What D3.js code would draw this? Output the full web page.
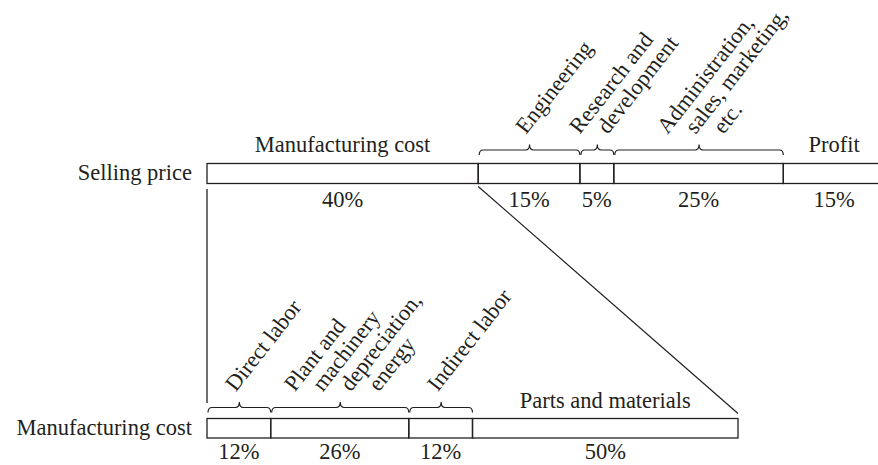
<!DOCTYPE html>
<html>
<head>
<meta charset="utf-8">
<script src="https://cdn.jsdelivr.net/npm/d3@7"></script>
<style>
  body { margin: 0; background: #fff; }
  svg text { font-family: 'Liberation Serif', 'Times New Roman', serif; font-size: 22.5px; fill: #231f20; }
</style>
</head>
<body>
<div id="chart"></div>
<script>
// selling price breakdown (top bar)
const priceCategories = ['Manufacturing cost', 'Engineering', 'Research and development', 'Administration, sales, marketing, etc.', 'Profit'];
const priceShares = [40, 15, 5, 25, 15];
const priceLabelLines = [['Manufacturing cost'], ['Engineering'], ['Research and', 'development'], ['Administration,', 'sales, marketing,', 'etc.'], ['Profit']];
const priceBraced = [false, true, true, true, false];

// manufacturing cost breakdown (bottom bar)
const costCategories = ['Direct labor', 'Plant and machinery depreciation, energy', 'Indirect labor', 'Parts and materials'];
const costShares = [12, 26, 12, 50];
const costLabelLines = [['Direct labor'], ['Plant and', 'machinery', 'depreciation,', 'energy'], ['Indirect labor'], ['Parts and materials']];
const costBraced = [true, true, true, false];

const rowLabels = ['Selling price', 'Manufacturing cost'];

const width = 878;
const height = 465;
const ink = '#231f20';

const svg = d3.select('#chart')
  .append('svg')
  .attr('width', width)
  .attr('height', height);

const xTop = d3.scaleLinear().domain([0, 100]).range([207, 885]);
const xBot = d3.scaleLinear().domain([0, 100]).range([207, 738]);

function segments(cats, shares, lines, braced) {
  let acc = 0;
  return cats.map((c, i) => {
    const s = { name: c, value: shares[i], start: acc, end: acc + shares[i], lines: lines[i], braced: braced[i] };
    acc += shares[i];
    return s;
  });
}

function bracePath(x0, x1, yEnd, yLine, yTip) {
  const r = 4;
  const xm = (x0 + x1) / 2;
  return `M${x0},${yEnd} Q${x0},${yLine} ${x0 + r},${yLine} L${xm - r},${yLine} Q${xm},${yLine} ${xm},${yTip}`
    + ` Q${xm},${yLine} ${xm + r},${yLine} L${x1 - r},${yLine} Q${x1},${yLine} ${x1},${yEnd}`;
}

function drawRow({ data, x, barTop, barH, braceY, labelY, pctY, rowLabel, rowLabelY, cls }) {
  const g = svg.append('g').attr('class', cls);

  g.selectAll('rect')
    .data(data)
    .enter()
    .append('rect')
    .attr('x', d => x(d.start))
    .attr('y', barTop)
    .attr('width', d => x(d.end) - x(d.start))
    .attr('height', barH)
    .attr('fill', 'none')
    .attr('stroke', ink)
    .attr('stroke-width', 1.3);

  g.append('text')
    .attr('x', 192)
    .attr('y', rowLabelY)
    .attr('text-anchor', 'end')
    .text(rowLabel);

  g.selectAll('.pct')
    .data(data)
    .enter()
    .append('text')
    .attr('class', 'pct')
    .attr('x', d => (x(d.start) + x(d.end)) / 2)
    .attr('y', pctY)
    .attr('text-anchor', 'middle')
    .text(d => `${d.value}%`);

  // plain labels above the bar
  g.selectAll('.plain')
    .data(data.filter(d => !d.braced))
    .enter()
    .append('text')
    .attr('class', 'plain')
    .attr('x', d => (x(d.start) + x(d.end)) / 2)
    .attr('y', labelY)
    .attr('text-anchor', 'middle')
    .text(d => d.lines.join(' '));

  // braces + slanted labels
  const braced = data.filter(d => d.braced);
  g.selectAll('.brace')
    .data(braced)
    .enter()
    .append('path')
    .attr('class', 'brace')
    .attr('d', d => bracePath(x(d.start) + 1, x(d.end), braceY + 5, braceY, braceY - 5.5))
    .attr('fill', 'none')
    .attr('stroke', ink)
    .attr('stroke-width', 1.2);

  braced.forEach((d) => {
    const tip = (x(d.start) + x(d.end)) / 2;
    const n = d.lines.length;
    d.lines.forEach((line, i) => {
      const sx = tip + (i - (n - 1) / 2) * 28 - 3;
      const sy = braceY - 15;
      g.append('text')
        .attr('transform', `translate(${sx},${sy}) rotate(-52)`)
        .text(line);
    });
  });
}

const priceSegs = segments(priceCategories, priceShares, priceLabelLines, priceBraced);
const costSegs = segments(costCategories, costShares, costLabelLines, costBraced);

drawRow({
  data: priceSegs, x: xTop, barTop: 163.5, barH: 20, braceY: 150, labelY: 152, pctY: 207,
  rowLabel: rowLabels[0], rowLabelY: 180, cls: 'price-row',
});

drawRow({
  data: costSegs, x: xBot, barTop: 418.5, barH: 19.5, braceY: 407.5, labelY: 408, pctY: 459,
  rowLabel: rowLabels[1], rowLabelY: 435, cls: 'cost-row',
});

// connectors from the manufacturing cost segment down to the second bar
const mfg = priceSegs[0];
svg.append('line')
  .attr('x1', xTop(mfg.start)).attr('y1', 189)
  .attr('x2', xBot(0)).attr('y2', 403)
  .attr('stroke', ink).attr('stroke-width', 1.3);

svg.append('line')
  .attr('x1', xTop(mfg.end)).attr('y1', 186.5)
  .attr('x2', xBot(100)).attr('y2', 413.5)
  .attr('stroke', ink).attr('stroke-width', 1.2);
</script>
</body>
</html>
